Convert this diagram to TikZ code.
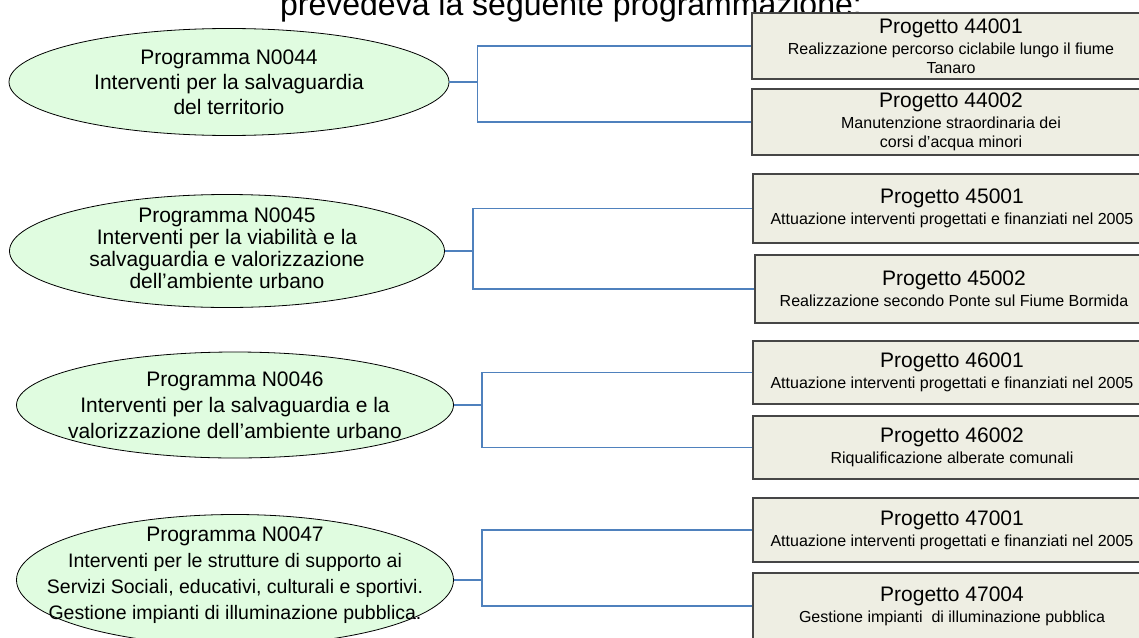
\documentclass[tikz,border=0pt]{standalone}
\usepackage{fontspec}
\setmainfont{Liberation Sans}
\usetikzlibrary{shapes.geometric, positioning, calc}
\definecolor{progfill}{RGB}{224, 252, 224}
\definecolor{prjfill}{RGB}{238, 238, 227}
\definecolor{prjline}{RGB}{70, 70, 70}
\definecolor{linkblue}{RGB}{79, 129, 189}
\newcommand{\prjsub}{\fontsize{16pt}{19pt}\selectfont}
\newcommand{\progsmall}{\fontsize{19.5pt}{26pt}\selectfont}

\begin{document}
\begin{tikzpicture}[
    x=1pt, y=-1pt,
    prog/.style={draw, ellipse, fill=progfill, line width=0.8pt, minimum width=437pt, minimum height=108pt, inner sep=0pt},
    progtxt/.style={align=center, inner sep=0pt, font=\fontsize{21pt}{25pt}\selectfont},
    prj/.style={draw=prjline, fill=prjfill, line width=1.2pt, minimum width=398pt, minimum height=66pt, inner sep=0pt, align=center, font=\fontsize{21pt}{19pt}\selectfont},
    link/.style={linkblue, line width=1.2pt},
]
\useasboundingbox (0,0) rectangle (1139,637);
\clip (0,0) rectangle (1139,637);

% --- Heading (cut at the top) ---
\node[font=\fontsize{32pt}{36pt}\selectfont, anchor=base, inner sep=0pt] (title) at (571,16) {prevedeva la seguente programmazione:};

% --- Programmi ---
\node[prog, minimum width=440pt, minimum height=107pt] (g44) at (229,82) {};
\node[progtxt] (g44t) at (g44) {Programma N0044\\Interventi per la salvaguardia\\del territorio};

\node[prog, minimum width=435pt, minimum height=113pt] (g45) at (227,251) {};
\node[progtxt, font=\fontsize{21pt}{22pt}\selectfont, yshift=3pt] (g45t) at (g45) {Programma N0045\\Interventi per la viabilità e la\\salvaguardia e valorizzazione\\dell’ambiente urbano};

\node[prog, minimum height=106pt] (g46) at (235,405) {};
\node[progtxt, font=\fontsize{21pt}{26pt}\selectfont] (g46t) at (g46) {Programma N0046\\Interventi per la salvaguardia e la\\valorizzazione dell’ambiente urbano};

\node[prog, minimum height=131pt] (g47) at (235,580) {};
\node[progtxt, font=\fontsize{21pt}{26pt}\selectfont, yshift=5pt] (g47t) at (g47) {Programma N0047\\\progsmall Interventi per le strutture di supporto ai\\\progsmall Servizi Sociali, educativi, culturali e sportivi.\\\progsmall Gestione impianti di illuminazione pubblica.};

% --- Progetti ---
\node[prj] (p44001) at (951,46) {Progetto 44001\\[2pt]\prjsub Realizzazione percorso ciclabile lungo il fiume\\\prjsub Tanaro};
\node[prj] (p44002) at (951,122) {Progetto 44002\\[2pt]\prjsub Manutenzione straordinaria dei\\\prjsub corsi d’acqua minori};

\node[prj, minimum height=69pt] (p45001) at (952,208.5) {Progetto 45001\\[2pt]\prjsub Attuazione interventi progettati e finanziati nel 2005};
\node[prj, minimum height=68pt] (p45002) at (954,289) {Progetto 45002\\[2pt]\prjsub Realizzazione secondo Ponte sul Fiume Bormida};

\node[prj, minimum height=63pt] (p46001) at (952,372.5) {Progetto 46001\\[2pt]\prjsub Attuazione interventi progettati e finanziati nel 2005};
\node[prj, minimum height=63pt] (p46002) at (952,447.5) {Progetto 46002\\[2pt]\prjsub Riqualificazione alberate comunali};

\node[prj, minimum height=64pt] (p47001) at (952,530) {Progetto 47001\\[2pt]\prjsub Attuazione interventi progettati e finanziati nel 2005};
\node[prj] (p47004) at (952,606) {Progetto 47004\\[2pt]\prjsub Gestione impianti\ \ di illuminazione pubblica};

% --- Links programma -> progetti ---
\foreach \g/\a/\b in {44/44001/44002, 45/45001/45002, 46/46001/46002, 47/47001/47004} {
    \coordinate (j\g) at ($(g\g.east)+(28,0)$);
    \draw[link] (g\g.east) -- (j\g);
    \draw[link] (j\g) |- (p\a.west);
    \draw[link] (j\g) |- (p\b.west);
}

\end{tikzpicture}
\end{document}
